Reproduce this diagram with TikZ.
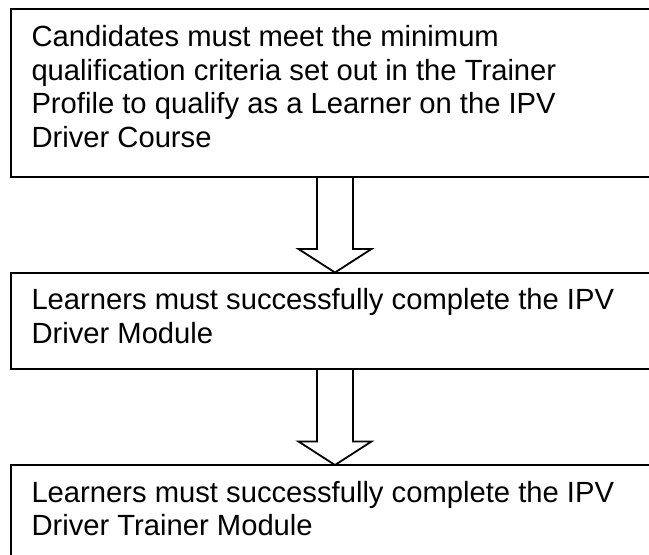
\documentclass[tikz,border=0pt]{standalone}
\usepackage{fontspec}
\setmainfont{Liberation Sans}
\usetikzlibrary{calc}
\begin{document}
\begin{tikzpicture}[x=1pt,y=-1pt,
  box/.style={draw, line width=2pt, inner sep=0pt, outer sep=0pt, anchor=north west, minimum width=660pt},
  txt/.style={anchor=base west, inner sep=0pt, outer sep=0pt, font=\fontsize{29.2}{33.6}\selectfont},
  blockarrow/.style={draw, line width=1.8pt, line join=miter}]
\useasboundingbox (0,0) rectangle (649,555);
\fill[white] (0,0) rectangle (649,555);
\clip (0,0) rectangle (649,555);
\node[box, minimum height=168pt] (b1) at (11,9) {};
\node[box, minimum height=96.5pt] (b2) at (11,272.5) {};
\node[box, minimum height=110pt] (b3) at (11,465) {};
\node[txt] (t1) at (31.5,46.5) {\begin{tabular}[t]{@{}l@{}}Candidates must meet the minimum\\qualification criteria set out in the Trainer\\Profile to qualify as a Learner on the IPV\\Driver Course\end{tabular}};
\node[txt] (t2) at (31.5,309.5) {\begin{tabular}[t]{@{}l@{}}Learners must successfully complete the IPV\\Driver Module\end{tabular}};
\node[txt] (t3) at (31.5,502) {\begin{tabular}[t]{@{}l@{}}Learners must successfully complete the IPV\\Driver Trainer Module\end{tabular}};
\coordinate (ax) at (335,0);
\draw[blockarrow] ($(ax |- b1.south)+(-18,0)$) -- ($(ax |- b2.north)+(-18,-23.5)$) -- ($(ax |- b2.north)+(-36.5,-23.5)$) -- (ax |- b2.north) -- ($(ax |- b2.north)+(36.5,-23.5)$) -- ($(ax |- b2.north)+(18,-23.5)$) -- ($(ax |- b1.south)+(18,0)$);
\draw[blockarrow] ($(ax |- b2.south)+(-18,0)$) -- ($(ax |- b3.north)+(-18,-23.5)$) -- ($(ax |- b3.north)+(-36.5,-23.5)$) -- (ax |- b3.north) -- ($(ax |- b3.north)+(36.5,-23.5)$) -- ($(ax |- b3.north)+(18,-23.5)$) -- ($(ax |- b2.south)+(18,0)$);
\end{tikzpicture}
\end{document}
